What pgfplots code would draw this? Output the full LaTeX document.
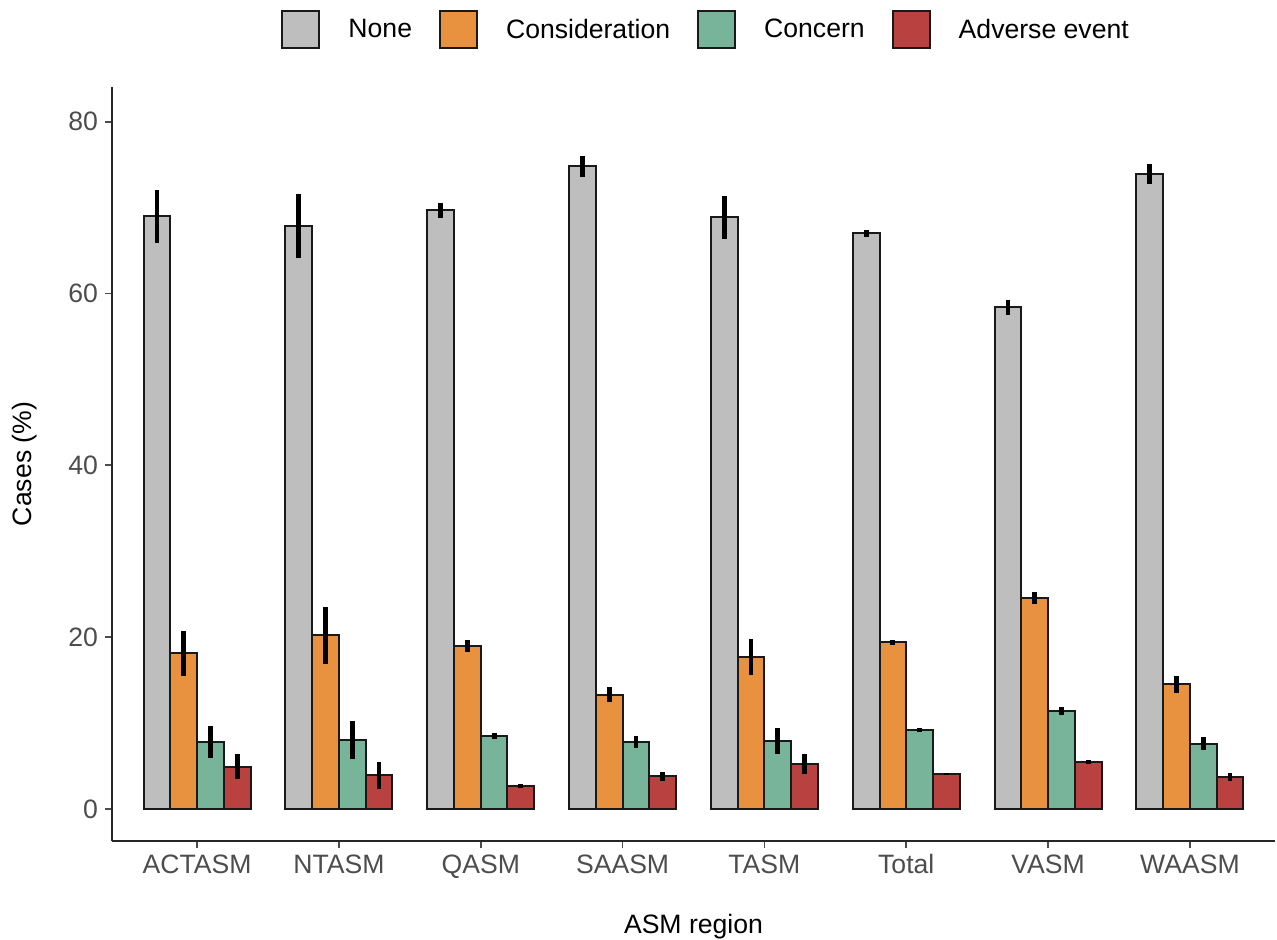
\documentclass[border=0pt]{standalone}
\usepackage{fontspec}
\setmainfont{Liberation Sans}
\usepackage{pgfplots}
\pgfplotsset{compat=1.18}
\usepackage{pgfplotstable}

\definecolor{cNone}{HTML}{BEBEBE}
\definecolor{cCons}{HTML}{E8913E}
\definecolor{cConc}{HTML}{78B49A}
\definecolor{cAdv}{HTML}{B9413F}
\definecolor{gtext}{HTML}{4D4D4D}

% square legend keys
\pgfplotsset{sqlegend/.style={legend image code/.code={%
  \draw[##1] (0pt,-9.25pt) rectangle (18.5pt,9.25pt);}}}

% region index, percentage of cases, error half-width
\pgfplotstableread{
x y e
1 69.0 3.1
2 67.9 3.7
3 69.7 0.85
4 74.8 1.2
5 68.9 2.5
6 67.0 0.4
7 58.4 0.9
8 73.9 1.15
}\tnone
\pgfplotstableread{
x y e
1 18.1 2.6
2 20.2 3.3
3 19.0 0.7
4 13.3 0.9
5 17.7 2.1
6 19.4 0.3
7 24.6 0.7
8 14.5 1.0
}\tcons
\pgfplotstableread{
x y e
1 7.8 1.9
2 8.0 2.2
3 8.5 0.4
4 7.8 0.75
5 7.9 1.5
6 9.2 0.2
7 11.4 0.5
8 7.6 0.75
}\tconc
\pgfplotstableread{
x y e
1 4.9 1.45
2 3.9 1.6
3 2.7 0.2
4 3.8 0.5
5 5.2 1.15
6 4.1 0.1
7 5.5 0.25
8 3.7 0.5
}\tadv

\begin{document}
\begin{tikzpicture}
\useasboundingbox (-56pt,-49pt) rectangle (582.5pt,420.5pt);
\begin{axis}[
  at={(0,0)}, anchor=south west,
  scale only axis,
  width=581.5pt, height=377pt,
  xmin=0.4, xmax=8.6,
  ymin=-3.73, ymax=84.05,
  axis lines*=left,
  x axis line style={-, line width=0.9pt, black!85},
  y axis line style={-, line width=0.9pt, black!85},
  ybar,
  bar width=0.1885,
  xtick={1,...,8},
  xticklabels={ACTASM,NTASM,QASM,SAASM,TASM,Total,VASM,WAASM},
  ytick={0,20,40,60,80},
  tick align=outside,
  major tick length=3.5pt,
  tick style={line width=0.9pt, black!70},
  every tick label/.append style={font=\fontsize{13.3}{16}\selectfont, text=gtext},
  xticklabel style={text height=1.6ex, text depth=0.3ex, yshift=-1pt},
  /pgf/number format/assume math mode=true,
  xlabel={ASM region},
  ylabel={Cases (\%)},
  label style={font=\fontsize{13.3}{16}\selectfont},
  xlabel style={at={(axis description cs:0.5,-0.113)}, anchor=center},
  ylabel style={at={(axis description cs:-0.0755,0.5)}, anchor=center},
  legend columns=4,
  legend style={
    at={(axis description cs:0.51,1.0756)}, anchor=center,
    draw=none, fill=none,
    font=\fontsize{13.3}{16}\selectfont,
    nodes={inner sep=0pt},
    /tikz/every odd column/.append style={column sep=14pt},
    /tikz/every even column/.append style={column sep=13.5pt},
  },
  sqlegend,
  error bars/error bar style={line width=2.4pt, black},
  every axis plot/.append style={draw=black!90, line width=1pt},
]
\addplot[fill=cNone, bar shift=-0.28275,
  error bars/.cd, y dir=both, y explicit, error mark=none]
  table[x=x, y=y, y error=e] {\tnone};
\addplot[fill=cCons, bar shift=-0.09425,
  error bars/.cd, y dir=both, y explicit, error mark=none]
  table[x=x, y=y, y error=e] {\tcons};
\addplot[fill=cConc, bar shift=0.09425,
  error bars/.cd, y dir=both, y explicit, error mark=none]
  table[x=x, y=y, y error=e] {\tconc};
\addplot[fill=cAdv, bar shift=0.28275,
  error bars/.cd, y dir=both, y explicit, error mark=none]
  table[x=x, y=y, y error=e] {\tadv};
\legend{None, Consideration, Concern, Adverse event}
\end{axis}
\end{tikzpicture}
\end{document}
